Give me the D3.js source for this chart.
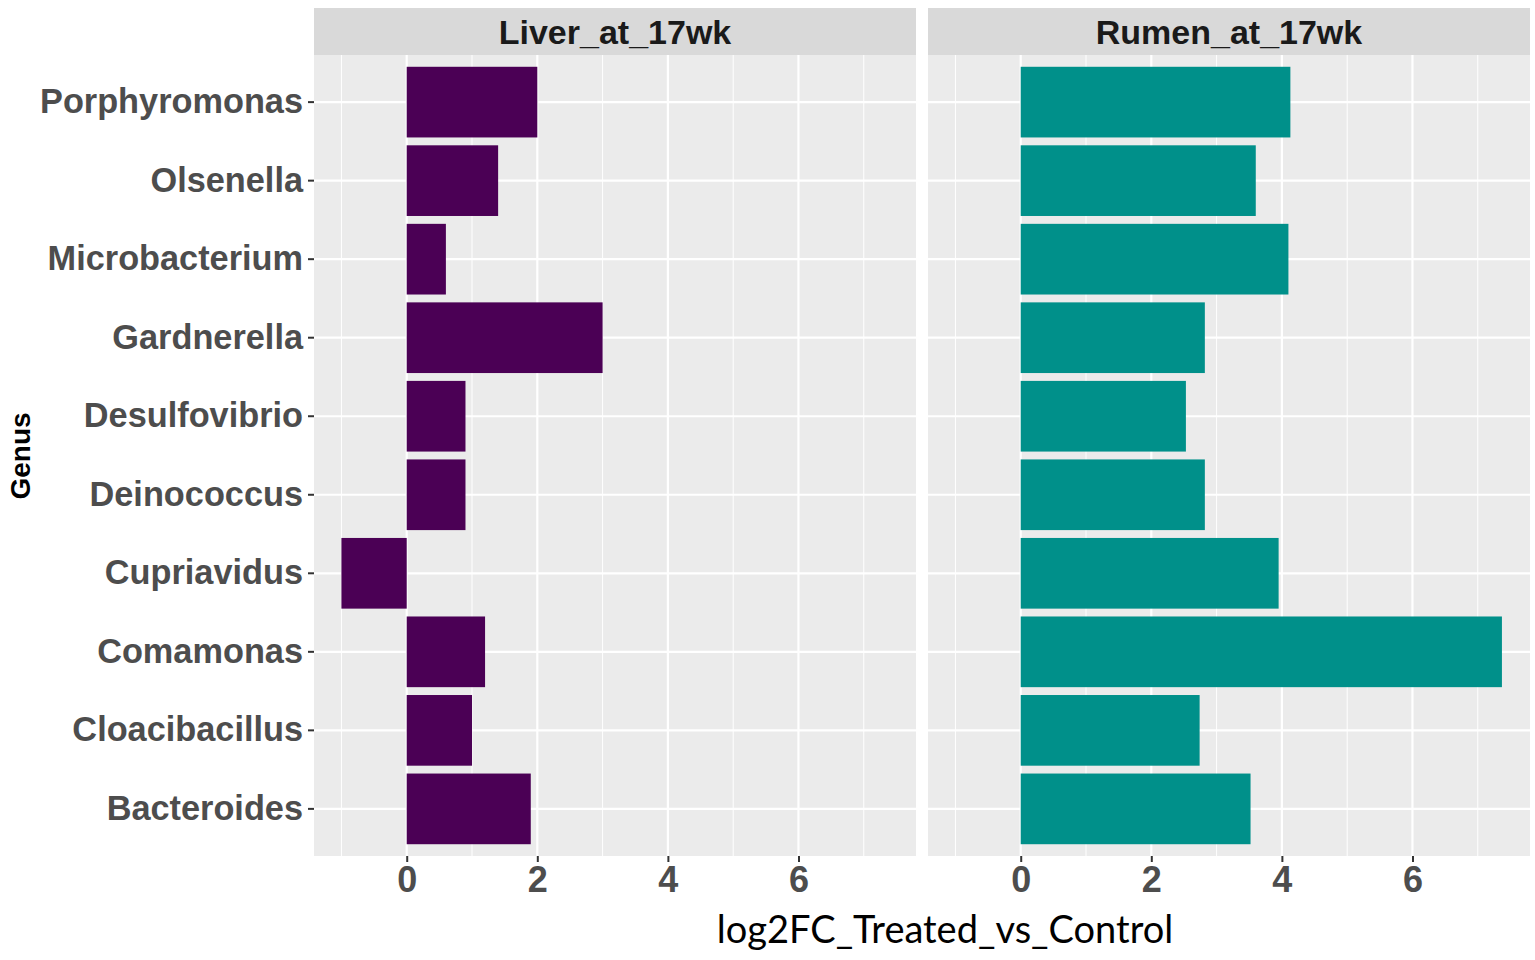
<!DOCTYPE html>
<html>
<head>
<meta charset="utf-8">
<script src="https://cdn.jsdelivr.net/npm/d3@7"></script>
<style>
  body { margin: 0; background: #fff; }
  text { font-family: "Liberation Sans", Arial, sans-serif; }
</style>
</head>
<body>
<div id="chart"></div>
<script>
// DATA
genera = ["Porphyromonas", "Olsenella", "Microbacterium", "Gardnerella", "Desulfovibrio",
          "Deinococcus", "Cupriavidus", "Comamonas", "Cloacibacillus", "Bacteroides"];
panels = ["Liver_at_17wk", "Rumen_at_17wk"];
liverFC = [2.0, 1.4, 0.6, 3.0, 0.9, 0.9, -1.0, 1.2, 1.0, 1.9];
rumenFC = [4.13, 3.6, 4.1, 2.82, 2.53, 2.82, 3.95, 7.37, 2.74, 3.52];
panelColours = ["#4b0055", "#00908a"];
xTicks = [0, 2, 4, 6];
xMinor = [-1, 1, 3, 5, 7];

// GLOBALS
width = 1535;
height = 960;
panelTop = 55;
panelBottom = 856;
stripTop = 8;
panelLefts = [314, 928];
panelWidth = 602;

var svg = d3.select("#chart")
    .append("svg")
    .attr("width", width)
    .attr("height", height);

x = d3.scaleLinear()
    .domain([-1.42, 7.8])
    .range([0, panelWidth]);

y = d3.scaleBand()
    .domain(genera)
    .range([panelTop, panelBottom])
    .paddingInner(0.1)
    .paddingOuter(0.15);

var values = [liverFC, rumenFC];

panels.forEach(function(name, p) {
  var g = svg.append("g")
      .attr("transform", "translate(" + panelLefts[p] + ",0)");

  // strip
  g.append("rect")
      .attr("x", 0).attr("y", stripTop)
      .attr("width", panelWidth).attr("height", panelTop - stripTop)
      .attr("fill", "#d9d9d9");
  g.append("text")
      .attr("x", panelWidth / 2)
      .attr("y", (stripTop + panelTop) / 2)
      .attr("dy", "0.36em")
      .attr("text-anchor", "middle")
      .attr("font-size", "34px")
      .attr("font-weight", "bold")
      .attr("fill", "#1a1a1a")
      .text(name);

  // panel background
  g.append("rect")
      .attr("x", 0).attr("y", panelTop)
      .attr("width", panelWidth).attr("height", panelBottom - panelTop)
      .attr("fill", "#ebebeb");

  // grid
  g.selectAll(".minor")
      .data(xMinor)
      .join("line")
      .attr("x1", d => x(d)).attr("x2", d => x(d))
      .attr("y1", panelTop).attr("y2", panelBottom)
      .attr("stroke", "#fff").attr("stroke-width", 1);
  g.selectAll(".major")
      .data(xTicks)
      .join("line")
      .attr("x1", d => x(d)).attr("x2", d => x(d))
      .attr("y1", panelTop).attr("y2", panelBottom)
      .attr("stroke", "#fff").attr("stroke-width", 2.2);
  g.selectAll(".hgrid")
      .data(genera)
      .join("line")
      .attr("x1", 0).attr("x2", panelWidth)
      .attr("y1", d => y(d) + y.bandwidth() / 2)
      .attr("y2", d => y(d) + y.bandwidth() / 2)
      .attr("stroke", "#fff").attr("stroke-width", 2.2);

  // bars
  g.selectAll(".bar")
      .data(genera.map((d, i) => ({genus: d, v: values[p][i]})))
      .join("rect")
      .attr("x", d => x(Math.min(0, d.v)))
      .attr("width", d => Math.abs(x(d.v) - x(0)))
      .attr("y", d => y(d.genus))
      .attr("height", y.bandwidth())
      .attr("fill", panelColours[p]);

  // x axis
  var ax = g.append("g")
      .attr("transform", "translate(0," + panelBottom + ")")
      .call(d3.axisBottom(x).tickValues(xTicks).tickSize(6).tickPadding(4).tickFormat(d3.format("d")));
  ax.select(".domain").remove();
  ax.selectAll("line").attr("stroke", "#333").attr("stroke-width", 2);
  ax.selectAll("text")
      .attr("font-size", "36px")
      .attr("font-weight", "bold")
      .attr("fill", "#4d4d4d");
});

// y axis on first panel
var ay = svg.append("g")
    .attr("transform", "translate(" + panelLefts[0] + ",0)")
    .call(d3.axisLeft(y).tickSize(6).tickPadding(5));
ay.select(".domain").remove();
ay.selectAll("line").attr("stroke", "#333").attr("stroke-width", 2);
ay.selectAll("text")
    .attr("font-size", "34.3px")
    .attr("font-weight", "bold")
    .attr("fill", "#4d4d4d");

// axis titles
svg.append("text")
    .attr("transform", "translate(30,456) rotate(-90)")
    .attr("text-anchor", "middle")
    .attr("font-size", "28px")
    .attr("font-weight", "bold")
    .attr("fill", "#000")
    .text("Genus");

svg.append("text")
    .attr("x", 945)
    .attr("y", 943)
    .attr("text-anchor", "middle")
    .attr("font-size", "38px")
    .attr("fill", "#000")
    .style("font-family", "Lato, 'Open Sans', sans-serif")
    .text("log2FC_Treated_vs_Control");
</script>
</body>
</html>
